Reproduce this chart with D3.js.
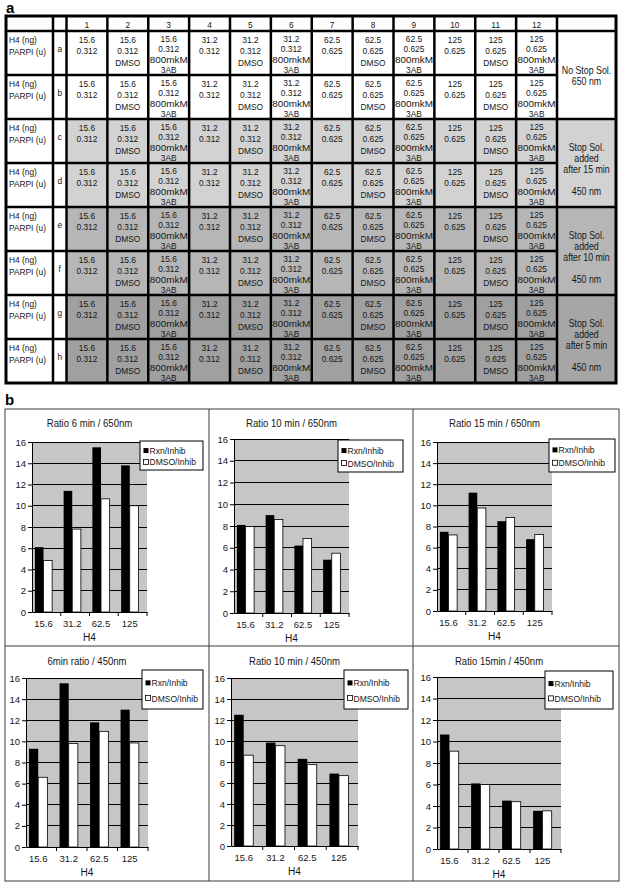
<!DOCTYPE html>
<html>
<head>
<meta charset="utf-8">
<script src="https://cdn.jsdelivr.net/npm/d3@7"></script>
<style>
  html, body { margin: 0; padding: 0; background: #fff; }
  svg { display: block; font-family: "Liberation Sans", Arial, Helvetica, sans-serif; }
</style>
</head>
<body>
<svg id="fig" width="623" height="888"></svg>
<script>
// ---------------- DATA: table (part a) ----------------
const plateColumns = ["1","2","3","4","5","6","7","8","9","10","11","12"];
const plateRows = ["a","b","c","d","e","f","g","h"];
const h4Amounts = ["15.6","15.6","15.6","31.2","31.2","31.2","62.5","62.5","62.5","125","125","125"];
const parpiUnits = ["0.312","0.312","0.312","0.312","0.312","0.312","0.625","0.625","0.625","0.625","0.625","0.625"];
const additives = [[],["DMSO"],["800mkM","3AB"],[],["DMSO"],["800mkM","3AB"],[],["DMSO"],["800mkM","3AB"],[],["DMSO"],["800mkM","3AB"]];
const rowLabel = ["H4 (ng)", "PARPI (u)"];
const conditions = [
  ["No Stop Sol.", "650 nm"],
  ["Stop Sol.", "added", "after 15 min", "", "450 nm"],
  ["Stop Sol.", "added", "after 10 min", "", "450 nm"],
  ["Stop Sol.", "added", "after 5 min", "", "450 nm"]
];

// ---------------- DATA: charts (part b) ----------------
const doseLabels = ["15.6", "31.2", "62.5", "125"];
const seriesNames = ["Rxn/Inhib", "DMSO/Inhib"];
const panelTitles = ["Ratio 6 min / 650nm", "Ratio 10 min / 650nm", "Ratio 15 min / 650nm",
                     "6min ratio / 450nm", "Ratio 10 min / 450nm", "Ratio 15min / 450nm"];
const rxnInhib = [
  [6.1, 11.4, 15.5, 13.8],
  [8.1, 9.0, 6.2, 4.9],
  [7.5, 11.2, 8.5, 6.8],
  [9.3, 15.5, 11.8, 13.0],
  [12.5, 9.85, 8.3, 6.9],
  [10.65, 6.1, 4.5, 3.55]
];
const dmsoInhib = [
  [4.85, 7.8, 10.65, 10.0],
  [7.95, 8.6, 6.85, 5.5],
  [7.2, 9.75, 8.85, 7.25],
  [6.6, 9.8, 10.95, 9.85],
  [8.65, 9.55, 7.75, 6.7],
  [9.1, 6.0, 4.4, 3.55]
];
const yTicks = [0, 2, 4, 6, 8, 10, 12, 14, 16];
const xTitle = "H4";

// ---------------- STYLE / LAYOUT ----------------
const rowShade = ["#ffffff", "#ffffff", "#d2d2d2", "#d2d2d2", "#b6b6b6", "#b6b6b6", "#a0a0a0", "#a0a0a0"];
const condShade = ["#ffffff", "#d2d2d2", "#b6b6b6", "#a6a6a6"];
const textCol = "#161616";

const svg = d3.select("#fig");
svg.append("rect").attr("width", 623).attr("height", 888).attr("fill", "#fff");

function txt(g, x, y, s, o = {}) {
  return g.append("text")
    .attr("transform", `translate(${x},${y}) scale(${o.sx ?? 0.88},1)`)
    .attr("text-anchor", o.anchor ?? "middle")
    .attr("font-size", o.size ?? 9.5)
    .attr("font-weight", o.weight ?? "normal")
    .attr("fill", o.fill ?? textCol)
    .text(s);
}

// ================= PART A: table =================
const T = { left: 6, labelR: 53, letterR: 66.5, dataR: 557, right: 616, top: 16, headB: 31, bottom: 383 };
const colX = d3.scaleBand().domain(plateColumns).range([T.letterR, T.dataR]);
const rowY = d3.scaleBand().domain(plateRows).range([T.headB, T.bottom]);
const cw = colX.bandwidth(), rh = rowY.bandwidth();

const ta = svg.append("g");
txt(ta, 6, 13, "a", { size: 15, weight: "bold", anchor: "start", sx: 1, fill: "#000" });

// cell fills
plateRows.forEach((r, ri) => {
  plateColumns.forEach(c => {
    ta.append("rect").attr("x", colX(c)).attr("y", rowY(r)).attr("width", cw).attr("height", rh)
      .attr("fill", rowShade[ri]);
  });
});
conditions.forEach((cond, k) => {
  const y0 = rowY(plateRows[2 * k]);
  ta.append("rect").attr("x", T.dataR).attr("y", y0).attr("width", T.right - T.dataR).attr("height", 2 * rh)
    .attr("fill", condShade[k]);
});

// header numbers
plateColumns.forEach(c => txt(ta, colX(c) + cw / 2, T.headB - 3.5, c, { size: 9.5 }));

// row labels and letters, cell contents
plateRows.forEach((r, ri) => {
  const y0 = rowY(r);
  txt(ta, T.left + 3, y0 + 11.5, rowLabel[0], { anchor: "start", size: 9.5 });
  txt(ta, T.left + 3, y0 + 23.5, rowLabel[1], { anchor: "start", size: 9.5 });
  txt(ta, (T.labelR + T.letterR) / 2, y0 + 20.5, r, { size: 9.5 });
  plateColumns.forEach((c, ci) => {
    const cx = colX(c) + cw / 2;
    const lines = [h4Amounts[ci], parpiUnits[ci]].concat(additives[ci]);
    const four = lines.length === 4;
    const base = four ? 10.5 : 11.5;
    const step = four ? 10.6 : 11.5;
    lines.forEach((s, li) => {
      if (s === "800mkM") {
        ta.append("text").attr("x", cx).attr("y", y0 + base + li * step)
          .attr("text-anchor", "middle").attr("font-size", 9.5).attr("fill", textCol)
          .attr("textLength", 38).attr("lengthAdjust", "spacingAndGlyphs").text(s);
      } else {
        txt(ta, cx, y0 + base + li * step, s, { size: 9.5 });
      }
    });
  });
});

// condition column text
conditions.forEach((cond, k) => {
  const y0 = rowY(plateRows[2 * k]);
  const cx = (T.dataR + T.right) / 2;
  const start = k === 0 ? 42.5 : 31.5;
  cond.forEach((s, li) => { if (s) txt(ta, cx, y0 + start + li * 11, s, { size: 10 }); });
});

// grid lines
const gl = ta.append("g").attr("stroke", "#000").attr("stroke-width", 2.5);
const vxs = [T.labelR, T.letterR].concat(plateColumns.slice(1).map(c => colX(c))).concat([T.dataR]);
vxs.forEach(x => gl.append("line").attr("x1", x).attr("x2", x).attr("y1", T.top).attr("y2", T.bottom));
gl.append("line").attr("x1", T.left).attr("x2", T.right).attr("y1", T.headB).attr("y2", T.headB);
plateRows.slice(1).forEach((r, i) => {
  const y = rowY(r);
  const spanInner = (i % 2 === 0); // between a/b, c/d, ...
  gl.append("line").attr("x1", T.left).attr("x2", spanInner ? T.dataR : T.right).attr("y1", y).attr("y2", y);
});
ta.append("rect").attr("x", T.left).attr("y", T.top).attr("width", T.right - T.left).attr("height", T.bottom - T.top)
  .attr("fill", "none").attr("stroke", "#000").attr("stroke-width", 3);

// ================= PART B: charts =================
const tb = svg.append("g");
txt(tb, 5, 405, "b", { size: 15, weight: "bold", anchor: "start", sx: 1, fill: "#000" });

const F = { x: [5, 209, 413, 619], y: [409, 646, 881] };
const frame = tb.append("g").attr("stroke", "#3a3a3a").attr("stroke-width", 1).attr("fill", "none");
frame.append("rect").attr("x", F.x[0]).attr("y", F.y[0]).attr("width", F.x[3] - F.x[0]).attr("height", F.y[2] - F.y[0]);
[F.x[1], F.x[2]].forEach(x => frame.append("line").attr("x1", x).attr("x2", x).attr("y1", F.y[0]).attr("y2", F.y[2]));
frame.append("line").attr("x1", F.x[0]).attr("x2", F.x[3]).attr("y1", F.y[1]).attr("y2", F.y[1]);

// layout per panel: plot [l,t,r,b], legend [x0,y0,x1,y1] relative to panel origin
const panelLayout = [
  { plot: [27, 33, 142, 203], legend: [135, 32, 198, 61], titleY: 18 },
  { plot: [25, 30, 140, 204], legend: [129, 31, 194, 63], titleY: 18 },
  { plot: [24, 33, 139, 202], legend: [136, 30, 202, 63], titleY: 18 },
  { plot: [21, 32, 143, 201], legend: [137, 24, 198, 63], titleY: 19 },
  { plot: [22, 32, 149, 200], legend: [135, 24, 199, 63], titleY: 19 },
  { plot: [24, 31, 148, 203], legend: [132, 25, 200, 63], titleY: 19 }
];

panelTitles.forEach((title, i) => {
  const ox = F.x[i % 3], oy = F.y[Math.floor(i / 3)];
  const L = panelLayout[i];
  const [l, t, r, b] = L.plot;
  const g = tb.append("g").attr("transform", `translate(${ox},${oy})`);

  const x = d3.scaleBand().domain(doseLabels).range([l, r]);
  const bw = x.bandwidth();
  const xs = d3.scaleBand().domain(seriesNames).range([bw * 0.1, bw * 0.7]);
  const y = d3.scaleLinear().domain([0, 16]).range([b, t]);

  g.append("rect").attr("x", l).attr("y", t).attr("width", r - l).attr("height", b - t).attr("fill", "#c6c6c6");
  g.append("g").selectAll("line").data(yTicks.filter(v => v > 0)).join("line")
    .attr("x1", l).attr("x2", r).attr("y1", d => y(d)).attr("y2", d => y(d))
    .attr("stroke", "#000").attr("stroke-width", 1).attr("shape-rendering", "crispEdges");

  const series = [rxnInhib[i], dmsoInhib[i]];
  seriesNames.forEach((s, si) => {
    g.append("g").selectAll("rect").data(series[si]).join("rect")
      .attr("x", (d, k) => x(doseLabels[k]) + xs(s))
      .attr("y", d => y(d))
      .attr("width", xs.bandwidth())
      .attr("height", d => y(0) - y(d))
      .attr("fill", si === 0 ? "#000" : "#fff")
      .attr("stroke", "#000").attr("stroke-width", si === 0 ? 0 : 0.8);
  });

  // y axis
  const ya = g.append("g").attr("transform", `translate(${l},0)`)
    .call(d3.axisLeft(y).tickValues(yTicks).tickSize(4).tickPadding(2).tickSizeOuter(0));
  ya.select(".domain").attr("stroke", "#000");
  ya.selectAll(".tick line").attr("stroke", "#000");
  ya.selectAll(".tick text").attr("font-size", 9.5).attr("fill", textCol)
    .attr("font-family", "Liberation Sans, Arial, sans-serif");

  // x axis: labels centred under bar groups, ticks at category boundaries
  const xa = g.append("g").attr("transform", `translate(0,${b})`)
    .call(d3.axisBottom(x).tickSize(0).tickPadding(8).tickSizeOuter(0));
  xa.select(".domain").attr("stroke", "#000");
  xa.selectAll(".tick text").attr("font-size", 9.5).attr("fill", textCol)
    .attr("font-family", "Liberation Sans, Arial, sans-serif")
    .attr("x", -bw * 0.1);
  g.append("g").selectAll("line").data(doseLabels.slice(1).concat(["end"])).join("line")
    .attr("x1", d => d === "end" ? r : x(d)).attr("x2", d => d === "end" ? r : x(d))
    .attr("y1", b).attr("y2", b + 4).attr("stroke", "#000");

  txt(g, (l + r) / 2, b + 29, xTitle, { size: 11, sx: 0.92 });
  txt(g, (l + r) / 2, L.titleY, title, { size: 11, sx: 0.87 });

  // legend
  const [lx0, ly0, lx1, ly1] = L.legend;
  const lh = ly1 - ly0;
  g.append("rect").attr("x", lx0).attr("y", ly0).attr("width", lx1 - lx0).attr("height", lh)
    .attr("fill", "#fff").attr("stroke", "#000").attr("stroke-width", 1);
  seriesNames.forEach((s, si) => {
    const cy = ly0 + lh * (si === 0 ? 0.33 : 0.72);
    g.append("rect").attr("x", lx0 + 3.5).attr("y", cy - 2.5).attr("width", 5).attr("height", 5)
      .attr("fill", si === 0 ? "#000" : "#fff").attr("stroke", "#000").attr("stroke-width", si === 0 ? 0 : 0.8);
    txt(g, lx0 + 9.5, cy + 3.5, s, { size: 9.5, anchor: "start", sx: 0.9 });
  });
});
</script>
</body>
</html>
